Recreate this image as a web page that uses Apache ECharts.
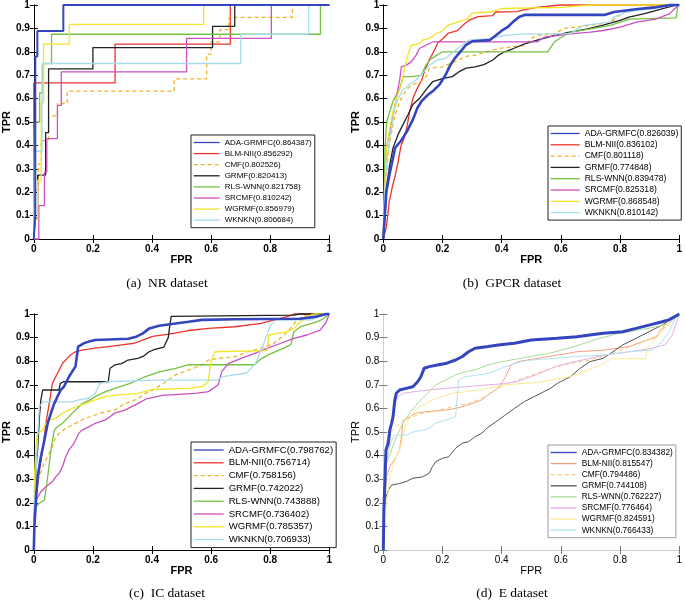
<!DOCTYPE html>
<html><head><meta charset="utf-8">
<script src="https://cdn.jsdelivr.net/npm/echarts@6/dist/echarts.min.js"></script>
<style>html,body{margin:0;padding:0;background:#fff}#c{width:685px;height:601px}</style>
</head><body><div id="c"></div>
<script>
// ---------- data ----------
const methods = ['ADA-GRMFC','BLM-NII','CMF','GRMF','RLS-WNN','SRCMF','WGRMF','WKNKN'];
const aucNR   = ['0.864387','0.856292','0.802526','0.820413','0.821758','0.810242','0.856979','0.806684'];
const aucGPCR = ['0.826039','0.836102','0.801118','0.774848','0.839478','0.825318','0.868548','0.810142'];
const aucIC   = ['0.798762','0.756714','0.758156','0.742022','0.743888','0.736402','0.785357','0.706933'];
const aucE    = ['0.834382','0.815547','0.794486','0.744108','0.762227','0.776464','0.824591','0.766433'];
const xTicks = [0,0.2,0.4,0.6,0.8,1];
const yTicks = [0,0.1,0.2,0.3,0.4,0.5,0.6,0.7,0.8,0.9,1];
const captions = ['(a)  NR dataset','(b)  GPCR dataset','(c)  IC dataset','(d)  E dataset'];

// NR
const nrADA=[[0,0],[0.005,0.11],[0.005,0.78],[0.012,0.78],[0.012,0.889],[0.1,0.889],[0.1,1],[1,1]];
const nrBLM=[[0,0],[0,0.667],[0.275,0.667],[0.275,0.833],[0.665,0.833],[0.665,1],[1,1]];
const nrCMF=[[0,0],[0,0.05],[0.005,0.05],[0.005,0.21],[0.015,0.21],[0.015,0.32],[0.025,0.32],[0.025,0.42],[0.05,0.42],[0.05,0.526],[0.08,0.526],[0.08,0.579],[0.113,0.579],[0.113,0.632],[0.475,0.632],[0.475,0.684],[0.585,0.684],[0.585,0.789],[0.6,0.789],[0.6,0.842],[0.63,0.842],[0.63,0.895],[0.66,0.895],[0.66,0.947],[0.875,0.947],[0.875,1],[1,1]];
const nrGRMF=[[0,0],[0.005,0.09],[0.013,0.09],[0.013,0.273],[0.04,0.273],[0.04,0.455],[0.05,0.455],[0.05,0.727],[0.2,0.727],[0.2,0.818],[0.605,0.818],[0.605,0.909],[0.68,0.909],[0.68,1],[1,1]];
const nrRLS=[[0,0],[0,0.375],[0.005,0.375],[0.005,0.5],[0.02,0.5],[0.02,0.625],[0.03,0.625],[0.03,0.75],[0.06,0.75],[0.06,0.875],[0.97,0.875],[0.97,1],[1,1]];
const nrSRC=[[0,0],[0.017,0],[0.017,0.143],[0.036,0.143],[0.036,0.286],[0.044,0.286],[0.044,0.429],[0.08,0.429],[0.08,0.571],[0.093,0.571],[0.093,0.714],[0.517,0.714],[0.517,0.857],[0.804,0.857],[0.804,1],[1,1]];
const nrWGR=[[0,0],[0,0.083],[0.013,0.083],[0.013,0.25],[0.025,0.25],[0.025,0.583],[0.033,0.583],[0.033,0.833],[0.12,0.833],[0.12,0.917],[0.575,0.917],[0.575,1],[1,1]];
const nrWKN=[[0,0],[0,0.125],[0.005,0.125],[0.005,0.375],[0.028,0.375],[0.028,0.75],[0.7,0.75],[0.7,0.875],[0.93,0.875],[0.93,1],[1,1]];

// GPCR
const gpADA=[[0,0],[0.005,0.1],[0.01,0.2],[0.02,0.27],[0.03,0.33],[0.04,0.39],[0.06,0.42],[0.08,0.46],[0.1,0.51],[0.115,0.56],[0.13,0.59],[0.15,0.615],[0.17,0.635],[0.19,0.66],[0.21,0.7],[0.225,0.74],[0.24,0.77],[0.26,0.8],[0.28,0.83],[0.3,0.845],[0.36,0.85],[0.38,0.87],[0.4,0.89],[0.42,0.905],[0.44,0.93],[0.46,0.95],[0.48,0.958],[0.75,0.958],[0.78,0.97],[0.86,0.983],[0.92,0.99],[0.97,1],[1,1]];
const gpBLM=[[0,0],[0.01,0.05],[0.015,0.1],[0.02,0.16],[0.03,0.22],[0.04,0.27],[0.05,0.33],[0.06,0.4],[0.07,0.43],[0.08,0.48],[0.09,0.55],[0.1,0.6],[0.115,0.645],[0.13,0.68],[0.14,0.72],[0.155,0.765],[0.17,0.8],[0.185,0.84],[0.2,0.855],[0.22,0.88],[0.25,0.89],[0.27,0.915],[0.29,0.935],[0.32,0.95],[0.37,0.955],[0.38,0.97],[0.45,0.972],[0.48,0.98],[0.52,0.99],[0.6,1],[1,1]];
const gpCMF=[[0,0],[0.005,0.15],[0.01,0.27],[0.02,0.4],[0.033,0.49],[0.044,0.545],[0.056,0.59],[0.067,0.615],[0.08,0.64],[0.1,0.66],[0.128,0.673],[0.145,0.695],[0.156,0.73],[0.2,0.736],[0.24,0.757],[0.28,0.78],[0.31,0.786],[0.35,0.8],[0.39,0.814],[0.48,0.828],[0.5,0.856],[0.52,0.87],[0.58,0.877],[0.61,0.9],[0.7,0.913],[0.77,0.927],[0.79,0.948],[0.81,0.969],[0.86,0.983],[0.92,0.997],[1,1]];
const gpGRMF=[[0,0],[0.006,0.095],[0.011,0.22],[0.022,0.32],[0.033,0.39],[0.05,0.447],[0.067,0.49],[0.083,0.53],[0.1,0.575],[0.122,0.6],[0.144,0.637],[0.167,0.673],[0.2,0.685],[0.233,0.694],[0.256,0.715],[0.28,0.73],[0.31,0.736],[0.34,0.745],[0.37,0.765],[0.39,0.786],[0.41,0.8],[0.44,0.814],[0.48,0.835],[0.52,0.85],[0.58,0.87],[0.63,0.884],[0.69,0.898],[0.74,0.913],[0.8,0.934],[0.83,0.948],[0.88,0.962],[0.92,0.976],[0.96,0.99],[0.99,1],[1,1]];
const gpRLS=[[0,0],[0.003,0.2],[0.006,0.39],[0.011,0.5],[0.022,0.545],[0.033,0.59],[0.044,0.615],[0.056,0.645],[0.067,0.694],[0.1,0.694],[0.128,0.7],[0.144,0.743],[0.161,0.77],[0.2,0.8],[0.556,0.8],[0.578,0.842],[0.611,0.87],[0.633,0.884],[0.7,0.898],[0.767,0.913],[0.8,0.927],[0.833,0.94],[0.99,0.945],[0.995,1],[1,1]];
const gpSRC=[[0,0],[0.005,0.2],[0.011,0.39],[0.022,0.46],[0.033,0.53],[0.044,0.6],[0.056,0.687],[0.061,0.736],[0.078,0.743],[0.094,0.757],[0.111,0.786],[0.122,0.814],[0.144,0.828],[0.167,0.842],[0.52,0.842],[0.545,0.863],[0.633,0.877],[0.7,0.884],[0.744,0.891],[0.8,0.905],[0.856,0.927],[0.92,0.94],[0.967,0.962],[0.99,0.99],[1,1]];
const gpWGR=[[0,0],[0.004,0.2],[0.011,0.39],[0.022,0.475],[0.033,0.545],[0.044,0.6],[0.061,0.66],[0.072,0.73],[0.083,0.786],[0.094,0.828],[0.122,0.835],[0.133,0.85],[0.156,0.857],[0.178,0.877],[0.2,0.89],[0.217,0.913],[0.25,0.927],[0.283,0.94],[0.3,0.965],[0.36,0.97],[0.4,0.985],[0.6,0.99],[0.7,1],[1,1]];
const gpWKN=[[0,0],[0.005,0.2],[0.01,0.3],[0.017,0.39],[0.028,0.475],[0.039,0.56],[0.05,0.6],[0.067,0.637],[0.089,0.66],[0.111,0.68],[0.133,0.708],[0.156,0.743],[0.183,0.765],[0.211,0.772],[0.244,0.807],[0.267,0.828],[0.289,0.85],[0.36,0.856],[0.41,0.87],[0.48,0.877],[0.633,0.877],[0.656,0.898],[0.678,0.913],[0.767,0.927],[0.778,0.948],[0.822,0.969],[0.856,0.976],[0.92,0.986],[0.967,0.997],[1,1]];

// IC
const icADA=[[0,0],[0.002,0.1],[0.008,0.226],[0.013,0.31],[0.024,0.395],[0.036,0.466],[0.047,0.537],[0.058,0.58],[0.069,0.62],[0.08,0.65],[0.091,0.678],[0.102,0.692],[0.119,0.734],[0.13,0.756],[0.141,0.777],[0.15,0.862],[0.169,0.876],[0.186,0.883],[0.208,0.89],[0.32,0.895],[0.347,0.904],[0.369,0.918],[0.391,0.939],[0.424,0.95],[0.48,0.96],[0.524,0.967],[0.569,0.975],[0.68,0.978],[0.9,0.98],[0.958,0.989],[0.99,1],[1,1]];
const icBLM=[[0,0],[0.002,0.1],[0.008,0.226],[0.019,0.34],[0.03,0.424],[0.041,0.537],[0.052,0.62],[0.063,0.706],[0.074,0.734],[0.086,0.763],[0.097,0.79],[0.113,0.812],[0.124,0.826],[0.141,0.84],[0.163,0.847],[0.208,0.855],[0.252,0.862],[0.297,0.869],[0.341,0.876],[0.37,0.89],[0.402,0.905],[0.458,0.915],[0.524,0.93],[0.591,0.939],[0.68,0.946],[0.769,0.96],[0.813,0.975],[0.858,0.989],[0.88,1],[1,1]];
const icCMF=[[0,0],[0.002,0.14],[0.008,0.27],[0.019,0.31],[0.03,0.353],[0.041,0.381],[0.052,0.41],[0.063,0.438],[0.074,0.48],[0.091,0.5],[0.108,0.515],[0.13,0.53],[0.152,0.543],[0.174,0.558],[0.208,0.572],[0.241,0.586],[0.274,0.593],[0.308,0.62],[0.352,0.64],[0.38,0.665],[0.413,0.685],[0.447,0.713],[0.48,0.742],[0.524,0.763],[0.569,0.784],[0.591,0.805],[0.624,0.812],[0.68,0.819],[0.724,0.84],[0.769,0.855],[0.813,0.876],[0.847,0.911],[0.869,0.939],[0.891,0.975],[0.924,0.996],[0.96,1],[1,1]];
const icGRMF=[[0,0],[0.002,0.17],[0.008,0.353],[0.013,0.424],[0.019,0.565],[0.024,0.636],[0.03,0.678],[0.085,0.678],[0.09,0.706],[0.1,0.713],[0.252,0.713],[0.258,0.77],[0.274,0.784],[0.297,0.79],[0.319,0.805],[0.352,0.812],[0.37,0.82],[0.39,0.84],[0.41,0.85],[0.44,0.86],[0.455,0.9],[0.46,0.95],[0.465,0.99],[0.88,0.995],[0.9,1],[1,1]];
const icRLS=[[0,0],[0.002,0.113],[0.008,0.184],[0.019,0.198],[0.036,0.212],[0.047,0.31],[0.058,0.424],[0.069,0.508],[0.08,0.522],[0.097,0.537],[0.119,0.565],[0.141,0.593],[0.163,0.62],[0.191,0.636],[0.208,0.65],[0.241,0.67],[0.274,0.685],[0.324,0.705],[0.369,0.73],[0.424,0.755],[0.48,0.77],[0.524,0.785],[0.747,0.785],[0.769,0.81],[0.791,0.826],[0.836,0.85],[0.87,0.87],[0.88,0.925],[0.902,0.946],[0.958,0.967],[0.98,0.98],[1,1]];
const icSRC=[[0,0],[0.002,0.14],[0.008,0.212],[0.024,0.247],[0.041,0.268],[0.063,0.29],[0.074,0.31],[0.086,0.325],[0.097,0.353],[0.108,0.395],[0.119,0.424],[0.136,0.452],[0.152,0.494],[0.163,0.508],[0.186,0.522],[0.208,0.537],[0.241,0.55],[0.274,0.58],[0.308,0.593],[0.352,0.62],[0.38,0.64],[0.436,0.655],[0.547,0.664],[0.591,0.671],[0.624,0.7],[0.636,0.756],[0.658,0.79],[0.702,0.812],[0.747,0.833],[0.791,0.855],[0.836,0.876],[0.88,0.897],[0.924,0.911],[0.969,0.932],[0.99,0.967],[1,1]];
const icWGR=[[0,0],[0.002,0.31],[0.008,0.452],[0.013,0.494],[0.03,0.508],[0.041,0.537],[0.052,0.55],[0.074,0.558],[0.097,0.58],[0.119,0.593],[0.141,0.607],[0.174,0.62],[0.208,0.636],[0.241,0.65],[0.286,0.657],[0.352,0.664],[0.4,0.68],[0.524,0.685],[0.569,0.692],[0.59,0.713],[0.6,0.8],[0.613,0.84],[0.79,0.845],[0.795,0.911],[0.858,0.925],[0.88,0.939],[0.902,0.967],[0.924,0.989],[0.947,1],[1,1]];
const icWKN=[[0,0],[0.003,0.2],[0.008,0.339],[0.013,0.48],[0.019,0.607],[0.03,0.628],[0.13,0.628],[0.152,0.636],[0.186,0.643],[0.208,0.664],[0.224,0.706],[0.252,0.713],[0.4,0.72],[0.62,0.72],[0.64,0.735],[0.72,0.75],[0.75,0.79],[0.78,0.88],[0.8,0.95],[0.82,0.975],[0.94,0.975],[0.96,0.99],[1,1]];

// E
const eADA=[[0,0],[0.002,0.17],[0.006,0.31],[0.009,0.424],[0.017,0.452],[0.022,0.508],[0.028,0.537],[0.033,0.565],[0.039,0.636],[0.044,0.664],[0.055,0.678],[0.077,0.685],[0.1,0.692],[0.116,0.713],[0.127,0.734],[0.138,0.77],[0.155,0.777],[0.183,0.784],[0.21,0.79],[0.244,0.805],[0.266,0.819],[0.288,0.84],[0.31,0.855],[0.354,0.862],[0.388,0.869],[0.443,0.876],[0.5,0.89],[0.588,0.897],[0.654,0.904],[0.698,0.911],[0.743,0.918],[0.809,0.925],[0.854,0.939],[0.898,0.953],[0.942,0.967],[0.965,0.975],[1,1]];
const eBLM=[[0,0],[0.002,0.14],[0.006,0.226],[0.011,0.31],[0.022,0.353],[0.044,0.395],[0.055,0.424],[0.061,0.48],[0.066,0.537],[0.072,0.55],[0.089,0.565],[0.111,0.58],[0.144,0.586],[0.21,0.593],[0.244,0.6],[0.266,0.607],[0.299,0.62],[0.332,0.636],[0.354,0.657],[0.388,0.685],[0.41,0.727],[0.432,0.784],[0.455,0.798],[0.521,0.812],[0.588,0.826],[0.654,0.84],[0.743,0.847],[0.831,0.862],[0.876,0.883],[0.92,0.9],[0.942,0.939],[0.955,0.96],[0.965,0.98],[1,1]];
const eCMF=[[0,0],[0.002,0.17],[0.011,0.452],[0.022,0.494],[0.044,0.522],[0.066,0.55],[0.1,0.565],[0.133,0.58],[0.166,0.586],[0.21,0.6],[0.255,0.614],[0.288,0.62],[0.332,0.643],[0.354,0.657],[0.388,0.685],[0.432,0.71],[0.499,0.74],[0.565,0.77],[0.632,0.79],[0.698,0.805],[0.765,0.83],[0.831,0.86],[0.876,0.88],[0.92,0.905],[0.965,0.96],[1,1]];
const eGRMF=[[0,0],[0.002,0.113],[0.006,0.212],[0.017,0.254],[0.028,0.275],[0.055,0.282],[0.077,0.29],[0.1,0.304],[0.133,0.31],[0.155,0.325],[0.166,0.353],[0.177,0.374],[0.199,0.388],[0.221,0.395],[0.244,0.431],[0.266,0.452],[0.288,0.459],[0.31,0.48],[0.332,0.494],[0.354,0.52],[0.388,0.55],[0.41,0.57],[0.443,0.6],[0.477,0.629],[0.521,0.657],[0.565,0.685],[0.588,0.706],[0.632,0.734],[0.665,0.77],[0.698,0.798],[0.743,0.812],[0.776,0.84],[0.809,0.869],[0.854,0.897],[0.898,0.925],[0.942,0.953],[0.976,0.982],[1,1]];
const eRLS=[[0,0],[0.002,0.17],[0.011,0.367],[0.028,0.424],[0.044,0.48],[0.066,0.537],[0.089,0.58],[0.111,0.614],[0.133,0.643],[0.155,0.67],[0.177,0.7],[0.21,0.72],[0.244,0.742],[0.277,0.756],[0.31,0.763],[0.354,0.784],[0.388,0.795],[0.477,0.815],[0.565,0.835],[0.654,0.865],[0.72,0.893],[0.787,0.915],[0.854,0.93],[0.92,0.945],[0.965,0.96],[1,1]];
const eSRC=[[0,0],[0.002,0.31],[0.011,0.452],[0.028,0.55],[0.039,0.62],[0.05,0.65],[0.066,0.664],[0.1,0.67],[0.155,0.678],[0.21,0.685],[0.277,0.692],[0.354,0.7],[0.41,0.705],[0.455,0.715],[0.521,0.745],[0.588,0.78],[0.654,0.8],[0.743,0.825],[0.831,0.84],[0.909,0.855],[0.953,0.87],[0.976,0.91],[1,1]];
const eWGR=[[0,0],[0.002,0.14],[0.017,0.254],[0.022,0.31],[0.039,0.381],[0.055,0.424],[0.066,0.48],[0.077,0.537],[0.1,0.58],[0.122,0.607],[0.144,0.62],[0.166,0.636],[0.199,0.65],[0.233,0.664],[0.277,0.67],[0.32,0.678],[0.354,0.685],[0.41,0.7],[0.521,0.71],[0.632,0.735],[0.698,0.765],[0.743,0.79],[0.77,0.81],[0.887,0.81],[0.89,0.855],[0.92,0.897],[0.953,0.939],[0.976,0.982],[1,1]];
const eWKN=[[0,0],[0.002,0.226],[0.011,0.381],[0.022,0.438],[0.033,0.48],[0.044,0.487],[0.077,0.487],[0.1,0.5],[0.133,0.508],[0.155,0.515],[0.177,0.537],[0.21,0.55],[0.244,0.565],[0.25,0.565],[0.255,0.72],[0.277,0.734],[0.32,0.742],[0.354,0.748],[0.41,0.775],[0.455,0.795],[0.5,0.805],[0.576,0.812],[0.654,0.82],[0.743,0.826],[0.831,0.84],[0.909,0.847],[0.942,0.883],[0.965,0.925],[0.987,0.98],[1,1]];

const curvesNR   = [nrADA,nrBLM,nrCMF,nrGRMF,nrRLS,nrSRC,nrWGR,nrWKN];
const curvesGPCR = [gpADA,gpBLM,gpCMF,gpGRMF,gpRLS,gpSRC,gpWGR,gpWKN];
const curvesIC   = [icADA,icBLM,icCMF,icGRMF,icRLS,icSRC,icWGR,icWKN];
const curvesE    = [eADA,eBLM,eCMF,eGRMF,eRLS,eSRC,eWGR,eWKN];

// ---------- styling / layout ----------
const colorsStrong = ['#3445c0','#e8352c','#f0b428','#222222','#76c043','#cc4fc4','#f2e526','#a8dcec'];
const colorsLight  = ['#3445c0','#f4a080','#f8cc78','#555555','#a8dc98','#e4aee4','#fbe890','#b0e2f2'];
const panels = [
  {curves:curvesNR,   auc:aucNR,   grid:{left:29.3,top:2.7,width:300,height:236.3}, legend:{left:191,top:135}, fs:8.0, iw:26, gap:2.1, cap:[167,283], light:false},
  {curves:curvesGPCR, auc:aucGPCR, grid:{left:383.3,top:2.7,width:300,height:236.3}, legend:{left:548,top:126}, fs:8.6, iw:29, gap:2.3, cap:[512,283], light:false},
  {curves:curvesIC,   auc:aucIC,   grid:{left:29.3,top:314,width:300,height:236}, legend:{left:191,top:442}, fs:9.6, iw:30, gap:2.8, cap:[167,593], light:false},
  {curves:curvesE,    auc:aucE,    grid:{left:383.3,top:314,width:300,height:236}, legend:{left:548,top:445}, fs:8.4, iw:26, gap:2.1, cap:[512,593], light:true}
];

const grids=[], xAxes=[], yAxes=[], series=[], legends=[], graphics=[];
panels.forEach((p,g)=>{
  grids.push(Object.assign({show:false}, p.grid));
  const axColor = p.light ? '#777' : '#000';
  const boxColor = p.light ? '#d0d0d0' : '#000';
  const lblStyle = {fontSize:10, fontFamily:'Arial, Liberation Sans', color:'#000', fontWeight: p.light?'normal':'bold'};
  const nameStyle = {fontSize:11, fontFamily:'Arial, Liberation Sans', color:'#000', fontWeight: p.light?'normal':'bold'};
  xAxes.push({gridIndex:g, type:'value', min:xTicks[0], max:xTicks[xTicks.length-1], interval:0.2, position:'bottom',
    axisLine:{lineStyle:{color:axColor,width:1}}, axisTick:{inside:true,length:4,lineStyle:{color:axColor}},
    axisLabel:Object.assign({margin:5},lblStyle), splitLine:{show:false},
    name:'FPR', nameLocation:'middle', nameGap:12.5, nameTextStyle:nameStyle});
  xAxes.push({gridIndex:g, type:'value', min:0, max:1, interval:0.2, position:'top',
    axisLine:{lineStyle:{color:boxColor,width:1}}, axisTick:{inside:true,length:4,lineStyle:{color:axColor}},
    axisLabel:{show:false}, splitLine:{show:false}});
  yAxes.push({gridIndex:g, type:'value', min:yTicks[0], max:yTicks[yTicks.length-1], interval:0.1, position:'left',
    axisLine:{lineStyle:{color:axColor,width:1}}, axisTick:{inside:true,length:4,lineStyle:{color:axColor}},
    axisLabel:Object.assign({margin:4},lblStyle), splitLine:{show:false},
    name:'TPR', nameLocation:'middle', nameGap:16, nameTextStyle:nameStyle});
  yAxes.push({gridIndex:g, type:'value', min:0, max:1, interval:0.1, position:'right',
    axisLine:{lineStyle:{color:boxColor,width:1}}, axisTick:{inside:true,length:4,lineStyle:{color:axColor}},
    axisLabel:{show:false}, splitLine:{show:false}});
  const names=[];
  p.curves.forEach((data,i)=>{
    const name = methods[i]+'('+p.auc[i]+')';
    names.push(name);
    const col = p.light ? colorsLight[i] : colorsStrong[i];
    let w = i===0 ? (g===0?2:2.6) : (p.light?1:1.3);
    if (i===0 && g===3) w=3;
    series.push({name, type:'line', xAxisIndex:g*2, yAxisIndex:g*2, data, showSymbol:false, symbol:'none',
      clip:false, z: i===0?4:3, animation:false,
      lineStyle:{color:col, width:w, type: i===2?[4,3]:'solid'}, itemStyle:{color:col}});
  });
  legends.push({data:names, orient:'vertical', left:p.legend.left, top:p.legend.top,
    backgroundColor:'#fff', borderColor: p.light?'#999':'#222', borderWidth:1, padding:[3,3,3,2],
    itemWidth:p.iw, itemHeight:9, itemGap:p.gap, selectedMode:false,
    itemStyle:{opacity:0}, lineStyle:{width:1.3},
    textStyle:{fontSize:p.fs, lineHeight:9, fontFamily:'Arial, Liberation Sans', color:'#000'}});
  graphics.push({type:'text', x:p.cap[0], y:p.cap[1], style:{text:captions[g], font:'13.5px "Liberation Serif"', fill:'#000', textAlign:'center', textVerticalAlign:'middle'}});
});

const chart = echarts.init(document.getElementById('c'), null, {renderer:'canvas'});
chart.setOption({animation:false, backgroundColor:'#fff', grid:grids, xAxis:xAxes, yAxis:yAxes, series, legend:legends, graphic:graphics});
</script></body></html>
